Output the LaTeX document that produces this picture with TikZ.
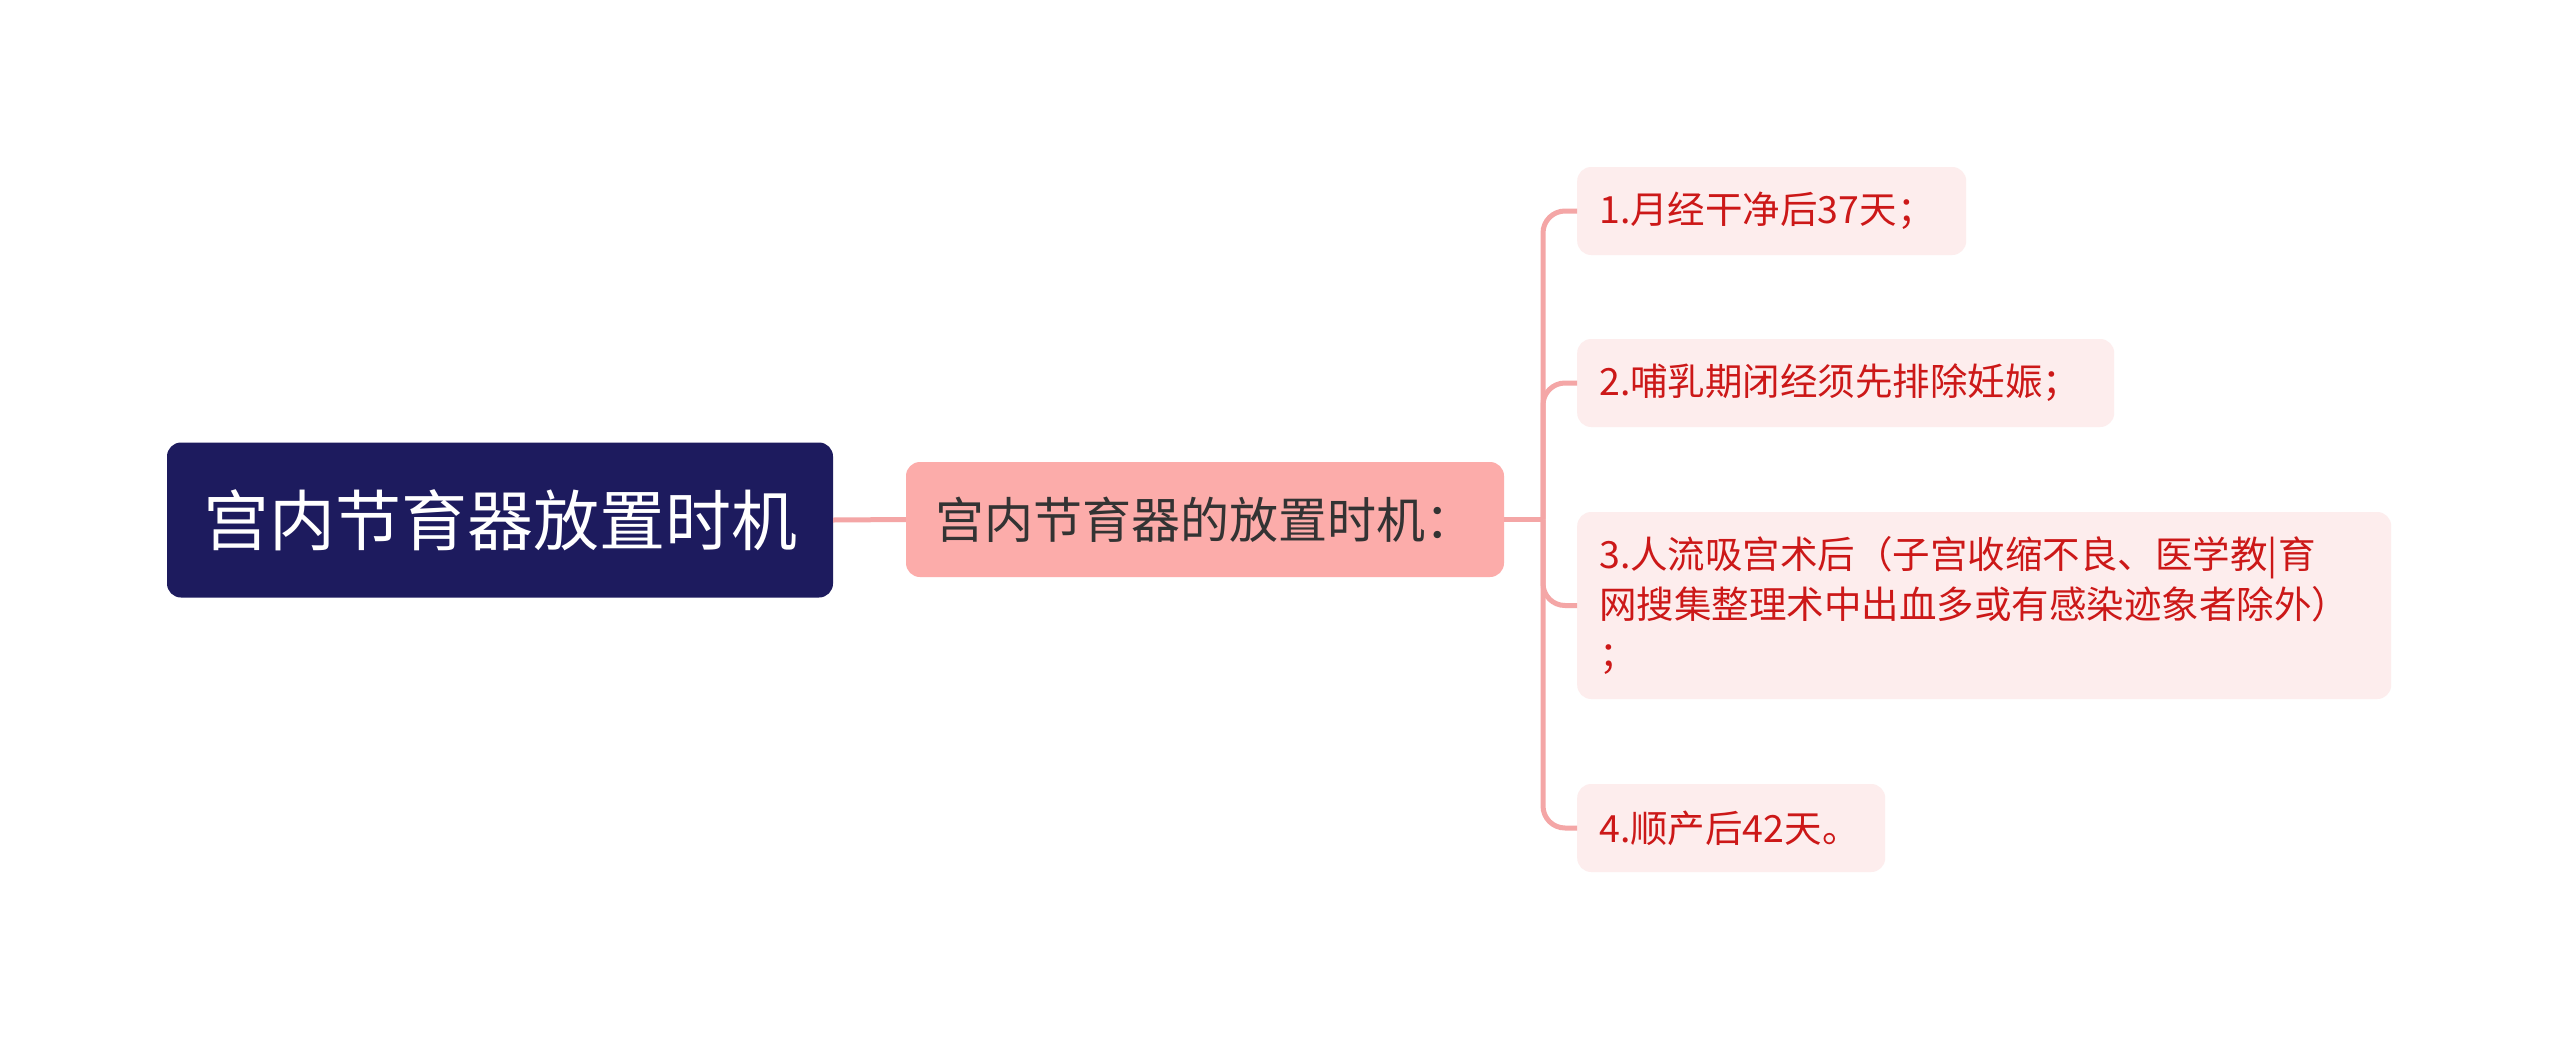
\documentclass[tikz,border=0pt]{standalone}
\usepackage{fontspec}
\setmainfont{Noto Sans CJK SC}
\definecolor{rootblue}{HTML}{1D1B5E}
\definecolor{midpink}{HTML}{FCACAA}
\definecolor{leafpink}{HTML}{FDEDED}
\definecolor{leafred}{HTML}{CC1818}
\definecolor{linkpink}{HTML}{F4A6A6}
\begin{document}
\begin{tikzpicture}[x=1pt,y=-1pt,
  rootbox/.style={fill=rootblue,rounded corners=14pt,text=white,
    font=\fontsize{66}{74}\selectfont,minimum width=666pt,minimum height=155pt,inner sep=0pt},
  midbox/.style={fill=midpink,rounded corners=14pt,text=black!80,
    font=\fontsize{49}{56}\selectfont,minimum width=598pt,minimum height=115pt,inner sep=0pt},
  leafbox/.style={fill=leafpink,rounded corners=14pt,text=leafred,anchor=west,align=left,
    font=\fontsize{37.5}{50}\selectfont,inner xsep=22pt,inner ysep=0pt,minimum height=88pt},
  link/.style={draw=linkpink,line width=5pt}]
% Canvas
\useasboundingbox[fill=white] (0,0) rectangle (2560,1039);

% Main nodes
\node[rootbox] (root) at (500,520) {宫内节育器放置时机};
\node[midbox] (mid) at (1205,519.5) {宫内节育器的放置时机：};

% Leaves
\node[leafbox,text width=345pt] (leaf1) at (1577,211) {1.月经干净后37天；};
\node[leafbox,text width=493pt] (leaf2) at (1577,383) {2.哺乳期闭经须先排除妊娠；};
\node[leafbox,text width=770pt,minimum height=187pt] (leaf3) at (1577,605.5)
  {3.人流吸宫术后（子宫收缩不良、医学教|育\\网搜集整理术中出血多或有感染迹象者除外）\\；};
\node[leafbox,text width=264pt] (leaf4) at (1577,828) {4.顺产后42天。};

% Connectors
\coordinate (fork) at (1543,519.5);
\draw[link] (root.east) -- (mid.west);
\draw[link] (mid.east) -- (fork);
\foreach \n in {1,...,4}
  \draw[link,rounded corners=22pt] (fork) |- (leaf\n.west);
\end{tikzpicture}
\end{document}
